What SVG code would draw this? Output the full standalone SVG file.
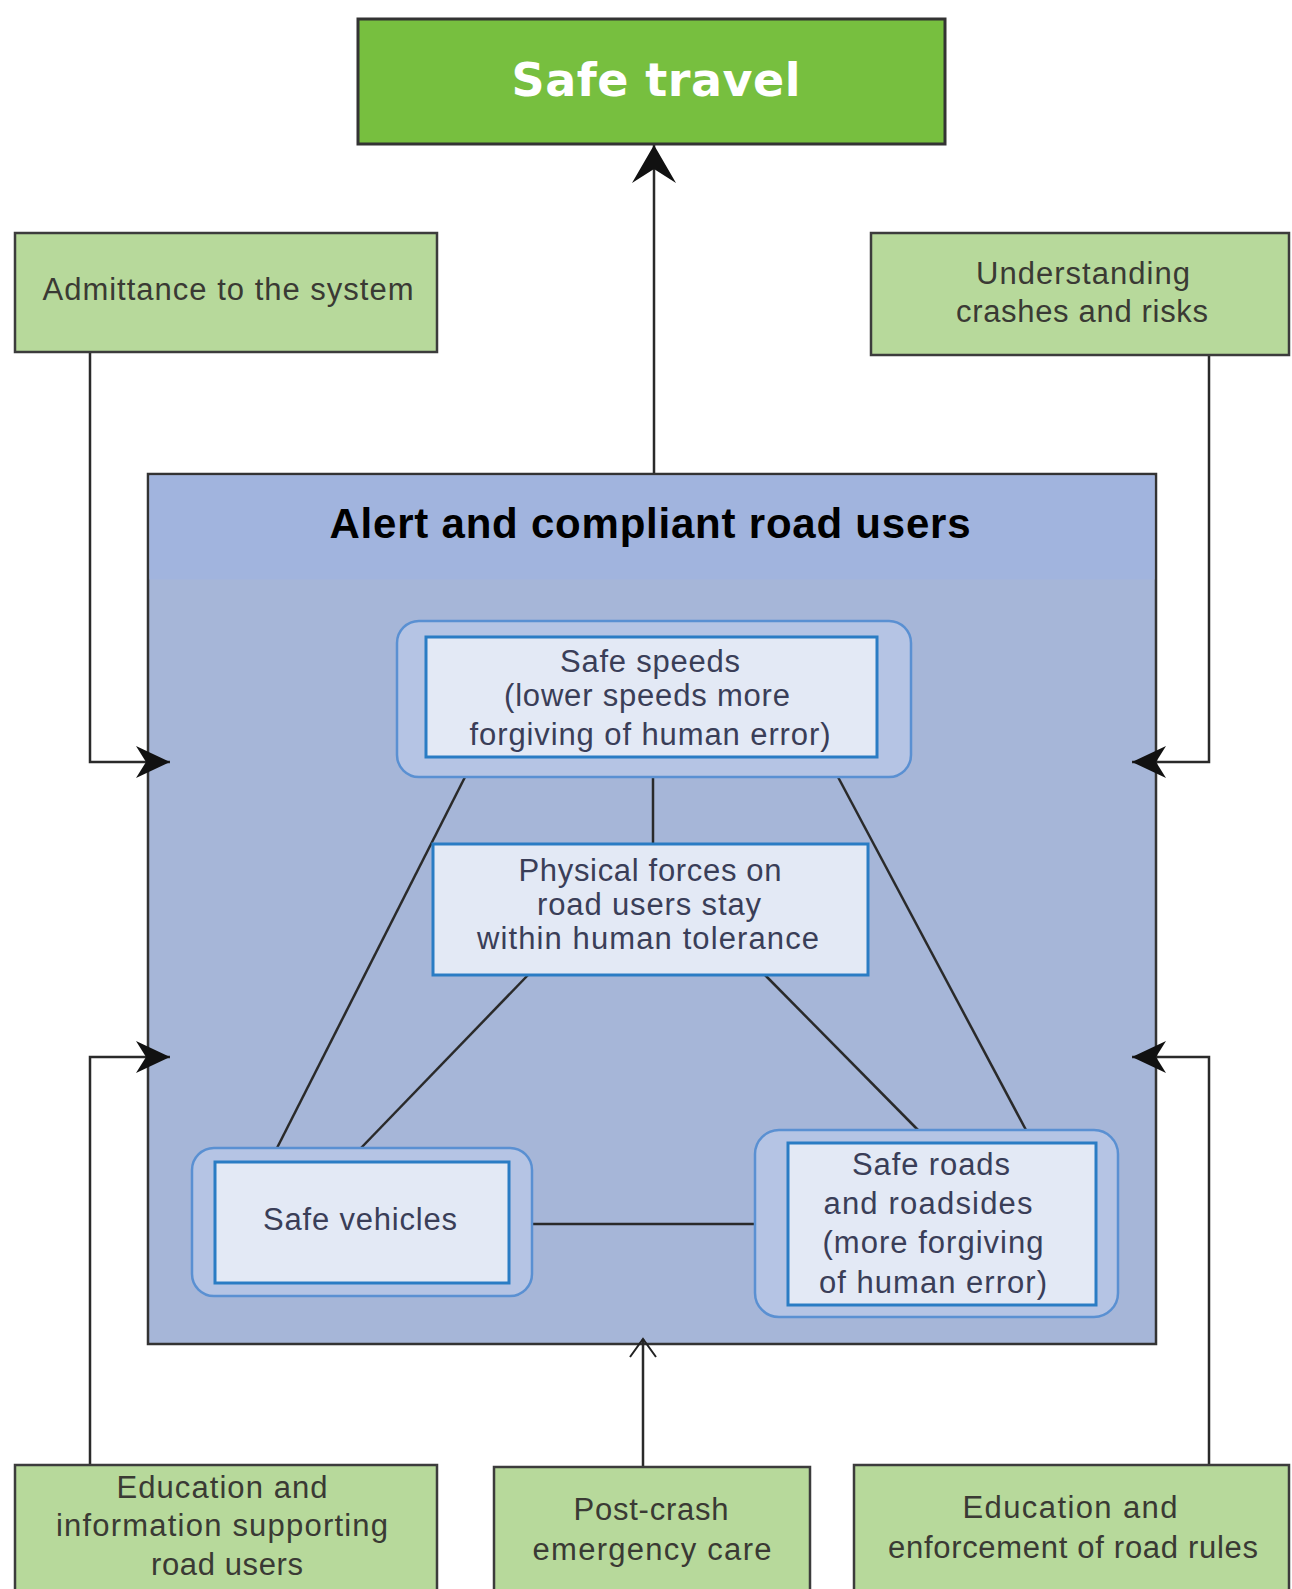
<svg xmlns="http://www.w3.org/2000/svg" width="1292" height="1589" viewBox="0 0 1292 1589">
<defs>
<style>
.green{fill:#b7d99b;stroke:#3c3c3c;stroke-width:2.5}
.top{fill:#77bf3f;stroke:#333;stroke-width:3}
.outer{fill:#b5c4e4;stroke:#5a90d2;stroke-width:2.5}
.inner{fill:#e3e9f5;stroke:#2a7cc4;stroke-width:3}
.ln{stroke:#2a2a2a;stroke-width:2.5;fill:none}
.t{font-family:"Liberation Sans",Arial,sans-serif;font-size:31px;text-anchor:middle;fill:#3a3e58}
.g{font-family:"Liberation Sans",Arial,sans-serif;font-size:31px;text-anchor:middle;fill:#3a3a34}
.n{font-family:"Liberation Sans",Arial,sans-serif;font-size:31px;text-anchor:middle;fill:#3a3a34}
</style>
<marker id="big" markerUnits="userSpaceOnUse" markerWidth="50" markerHeight="50" viewBox="-40 -25 44 50" refX="0" refY="0" orient="auto">
<path d="M0,0 L-38,-22 L-24,0 L-38,22 Z" fill="#111"/>
</marker>
<marker id="sm" markerUnits="userSpaceOnUse" markerWidth="40" markerHeight="40" viewBox="-36 -20 40 40" refX="0" refY="0" orient="auto">
<path d="M0,0 L-34,-16 L-24,0 L-34,16 Z" fill="#111"/>
</marker>
</defs>
<rect width="1292" height="1589" fill="#fff"/>

<g id="alert-box">
<rect x="148" y="474" width="1008" height="870" fill="#a6b6d8" stroke="#333" stroke-width="2.5"/>
<rect x="149.5" y="475.5" width="1005" height="104" fill="#a1b4de"/>
<text x="650" y="538" font-family="'Liberation Sans',Arial,sans-serif" font-size="42" font-weight="bold" text-anchor="middle" fill="#000" textLength="641">Alert and compliant road users</text>
</g>

<g id="connectors">
<line class="ln" x1="654" y1="473" x2="654" y2="145" marker-end="url(#big)"/>
<polyline class="ln" points="90,353 90,762 170,762" marker-end="url(#sm)"/>
<polyline class="ln" points="1209,355 1209,762 1132,762" marker-end="url(#sm)"/>
<polyline class="ln" points="90,1465 90,1057 170,1057" marker-end="url(#sm)"/>
<polyline class="ln" points="1209,1465 1209,1057 1132,1057" marker-end="url(#sm)"/>
<line class="ln" x1="643" y1="1467" x2="643" y2="1339"/>
<polyline points="630,1357 643,1339 656,1357" fill="none" stroke="#222" stroke-width="2"/>
<line class="ln" x1="653" y1="777" x2="653" y2="844"/>
<line class="ln" x1="465" y1="777" x2="277" y2="1148"/>
<line class="ln" x1="838" y1="777" x2="1026" y2="1130"/>
<line class="ln" x1="528" y1="975" x2="361" y2="1148"/>
<line class="ln" x1="765" y1="975" x2="918" y2="1130"/>
<line class="ln" x1="532" y1="1224" x2="755" y2="1224"/>
</g>

<g id="safe-travel">
<rect class="top" x="358" y="19" width="587" height="125"/>
<text x="656" y="96" font-family="'DejaVu Sans',sans-serif" font-size="46" font-weight="bold" text-anchor="middle" fill="#fff" textLength="289">Safe travel</text>
</g>

<g id="admittance">
<rect class="green" x="15" y="233" width="422" height="119"/>
<text class="g" x="228" y="300" textLength="371">Admittance to the system</text>
</g>

<g id="understanding">
<rect class="green" x="871" y="233" width="418" height="122"/>
<text class="g" x="1083" y="284" textLength="214">Understanding</text>
<text class="g" x="1082" y="322" textLength="252">crashes and risks</text>
</g>

<g id="safe-speeds">
<rect class="outer" x="397" y="621" width="514" height="156" rx="22"/>
<rect class="inner" x="426" y="637" width="451" height="120"/>
<text class="t" x="650" y="672" textLength="180">Safe speeds</text>
<text class="t" x="647" y="706" textLength="286">(lower speeds more</text>
<text class="t" x="650" y="745" textLength="361">forgiving of human error)</text>
</g>

<g id="physical-forces">
<rect class="inner" x="433" y="844" width="435" height="131"/>
<text class="t" x="650" y="881" textLength="263">Physical forces on</text>
<text class="t" x="649" y="915" textLength="224">road users stay</text>
<text class="t" x="648" y="949" textLength="342">within human tolerance</text>
</g>

<g id="safe-vehicles">
<rect class="outer" x="192" y="1148" width="340" height="148" rx="22"/>
<rect class="inner" x="215" y="1162" width="294" height="121"/>
<text class="t" x="360" y="1230" textLength="194">Safe vehicles</text>
</g>

<g id="safe-roads">
<rect class="outer" x="755" y="1130" width="363" height="187" rx="24"/>
<rect class="inner" x="788" y="1143" width="308" height="162"/>
<text class="t" x="931" y="1175" textLength="158">Safe roads</text>
<text class="t" x="928" y="1214" textLength="209">and roadsides</text>
<text class="t" x="933" y="1253" textLength="221">(more forgiving</text>
<text class="t" x="933" y="1293" textLength="228">of human error)</text>
</g>

<g id="education-information">
<rect class="green" x="15" y="1465" width="422" height="130"/>
<text class="n" x="222" y="1498" textLength="211">Education and</text>
<text class="n" x="222" y="1536" textLength="332">information supporting</text>
<text class="n" x="227" y="1575" textLength="152">road users</text>
</g>

<g id="post-crash">
<rect class="green" x="494" y="1467" width="316" height="130"/>
<text class="n" x="651" y="1520" textLength="155">Post-crash</text>
<text class="n" x="652" y="1560" textLength="239">emergency care</text>
</g>

<g id="education-enforcement">
<rect class="green" x="854" y="1465" width="435" height="130" stroke-width="3"/>
<text class="n" x="1070" y="1518" textLength="215">Education and</text>
<text class="n" x="1073" y="1558" textLength="370">enforcement of road rules</text>
</g>
</svg>
